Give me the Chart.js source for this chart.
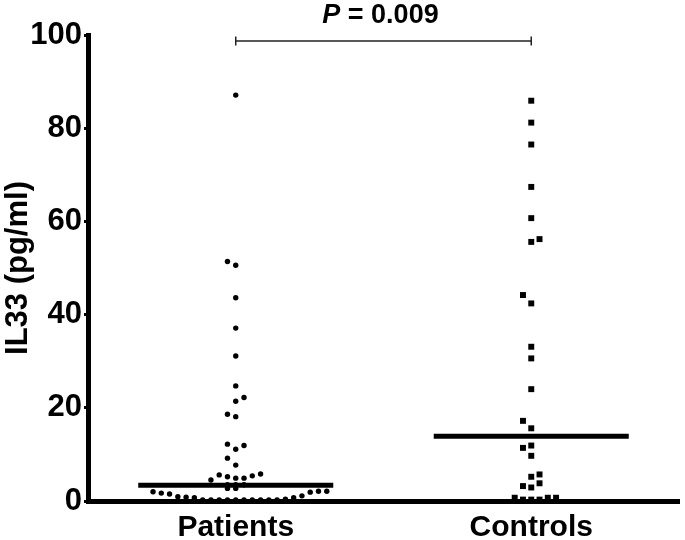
<!DOCTYPE html>
<html>
<head>
<meta charset="utf-8">
<script src="https://cdn.jsdelivr.net/npm/chart.js@4.4.0/dist/chart.umd.min.js"></script>
<style>
  body { margin: 0; background: #fff; }
  #wrap { width: 685px; height: 540px; }
</style>
</head>
<body>
<div id="wrap"><canvas id="myChart" width="685" height="540"></canvas></div>
<script>
const categories = ['Patients', 'Controls'];
const yTicks = [0, 20, 40, 60, 80, 100];
const pLabel = '0.009';

// IL33 values (pg/ml) and beeswarm column slot of each point
const patientsValues = [87.1, 51.4, 50.6, 43.6, 37.1, 31.1, 24.7, 22.2, 21.4, 18.6, 18.1,
  12.2, 11.9, 11.1, 9.2, 7.7, 5.8, 5.6, 5.2, 4.9, 4.9, 5.4, 4.5, 3.5, 3.5, 3.5, 2.7, 2.7,
  2.0, 1.7, 1.5, 0.9, 0.8, 0.7, 0.2, 0.2, 0.2, 0.2, 0.2, 0.2, 0.2, 0.2, 0.2, 0.2,
  0.4, 0.7, 1.1, 1.9, 2.1, 2.1, -1];
const patientsSlots = [0, -1, 0, 0, 0, 0, 0, 1, 0, -1, 0,
  -1, 1, 0, -1, 0, 3, -2, -1, 0, 1, 2, -3, -1, 0, 1, -1, 0,
  -10, -9, -8, -7, -6, -5, -4, -3, -2, -1, 0, 1, 2, 3, 4, 5,
  6, 7, 8, 9, 10, 11, 0];

const controlsValues = [85.9, 81.2, 76.5, 67.4, 60.7, 55.6, 56.2, 44.2, 42.4, 33.1, 30.6,
  24.0, 17.2, 15.6, 11.4, 11.9, 9.7, 5.2, 5.7, 3.2, 2.9, 3.8, 0.7, 0.3, 0.3, 0.3, 0.7, 0.7, -1];
const controlsSlots = [0, 0, 0, 0, 0, 0, 1, -1, 0, 0, 0,
  0, -1, 0, -1, 0, 0, 0, 1, -1, 0, 1, -2, -1, 0, 1, 2, 3, 0];

const medians = [3.4, 13.9];
const bracketY = 98.7;

const SLOT = 0.028;
const HALF = 0.33;

function toPoints(values, slots, center) {
  return values.map((v, i) => ({ x: center + slots[i] * SLOT, y: v }));
}

const ctx = document.getElementById('myChart');

const pTitle = {
  id: 'pTitle',
  afterDraw(chart) {
    const c = chart.ctx;
    const xs = chart.scales.x;
    const cx = xs.getPixelForValue(1.5) - 3;
    c.save();
    c.fillStyle = '#000';
    c.textBaseline = 'middle';
    c.font = 'italic bold 27px "Liberation Sans", Arial, sans-serif';
    const w1 = c.measureText('P').width;
    c.font = 'bold 27px "Liberation Sans", Arial, sans-serif';
    const rest = ' = ' + pLabel;
    const w2 = c.measureText(rest).width;
    let x = cx - (w1 + w2) / 2;
    c.textAlign = 'left';
    c.font = 'italic bold 27px "Liberation Sans", Arial, sans-serif';
    c.fillText('P', x, 16);
    c.font = 'bold 27px "Liberation Sans", Arial, sans-serif';
    c.fillText(rest, x + w1, 16);
    c.restore();
  }
};

new Chart(ctx, {
  type: 'scatter',
  data: {
    datasets: [
      {
        label: 'median patients',
        type: 'line',
        data: [{ x: 1 - HALF, y: medians[0] }, { x: 1 + HALF, y: medians[0] }],
        borderColor: '#000',
        borderWidth: 5,
        pointRadius: 0,
        clip: false
      },
      {
        label: 'median controls',
        type: 'line',
        data: [{ x: 2 - HALF, y: medians[1] }, { x: 2 + HALF, y: medians[1] }],
        borderColor: '#000',
        borderWidth: 5,
        pointRadius: 0,
        clip: false
      },
      {
        label: 'bracket',
        type: 'line',
        data: [{ x: 1, y: bracketY }, { x: 2, y: bracketY }],
        borderColor: '#222',
        borderWidth: 1.5,
        pointStyle: 'line',
        rotation: 90,
        pointRadius: 4.5,
        pointBorderWidth: 1.5,
        pointBorderColor: '#222',
        clip: false
      },
      {
        label: categories[0],
        data: toPoints(patientsValues, patientsSlots, 1),
        pointStyle: 'circle',
        pointRadius: 2.7,
        backgroundColor: '#000',
        borderColor: '#000',
        borderWidth: 0,
        clip: false
      },
      {
        label: categories[1],
        data: toPoints(controlsValues, controlsSlots, 2),
        pointStyle: 'rect',
        pointRadius: 4.2,
        backgroundColor: '#000',
        borderColor: '#000',
        borderWidth: 0,
        clip: false
      }
    ]
  },
  options: {
    responsive: false,
    animation: false,
    layout: { padding: { top: 35, right: 0, left: 0, bottom: 0 } },
    plugins: {
      legend: { display: false },
      tooltip: { enabled: false }
    },
    scales: {
      x: {
        type: 'linear',
        min: 0.5,
        max: 2.5,
        afterBuildTicks: function (scale) {
          scale.ticks = categories.map((c, i) => ({ value: i + 1 }));
        },
        afterFit: function (scale) {
          scale.height = 39;
        },
        grid: { display: false, drawTicks: false },
        border: { display: true, color: '#000', width: 5 },
        ticks: {
          color: '#000',
          padding: 9,
          maxRotation: 0,
          font: { family: '"Liberation Sans", Arial, sans-serif', size: 30, weight: 'bold' },
          callback: function (value) {
            return categories[Math.round(value) - 1];
          }
        }
      },
      y: {
        min: 0,
        max: 100,
        afterBuildTicks: function (scale) {
          scale.ticks = yTicks.map(v => ({ value: v }));
        },
        afterFit: function (scale) {
          scale.width = 88;
        },
        grid: {
          display: true,
          drawOnChartArea: false,
          drawTicks: true,
          tickLength: 4,
          tickWidth: 3,
          tickColor: '#000'
        },
        border: { display: true, color: '#000', width: 5 },
        title: {
          display: true,
          text: 'IL33 (pg/ml)',
          color: '#000',
          padding: { top: 0, bottom: 0 },
          font: { family: '"Liberation Sans", Arial, sans-serif', size: 31, weight: 'bold' }
        },
        ticks: {
          color: '#000',
          padding: 2,
          font: { family: '"Liberation Sans", Arial, sans-serif', size: 31, weight: 'bold' }
        }
      }
    }
  },
  plugins: [pTitle]
});
</script>
</body>
</html>
